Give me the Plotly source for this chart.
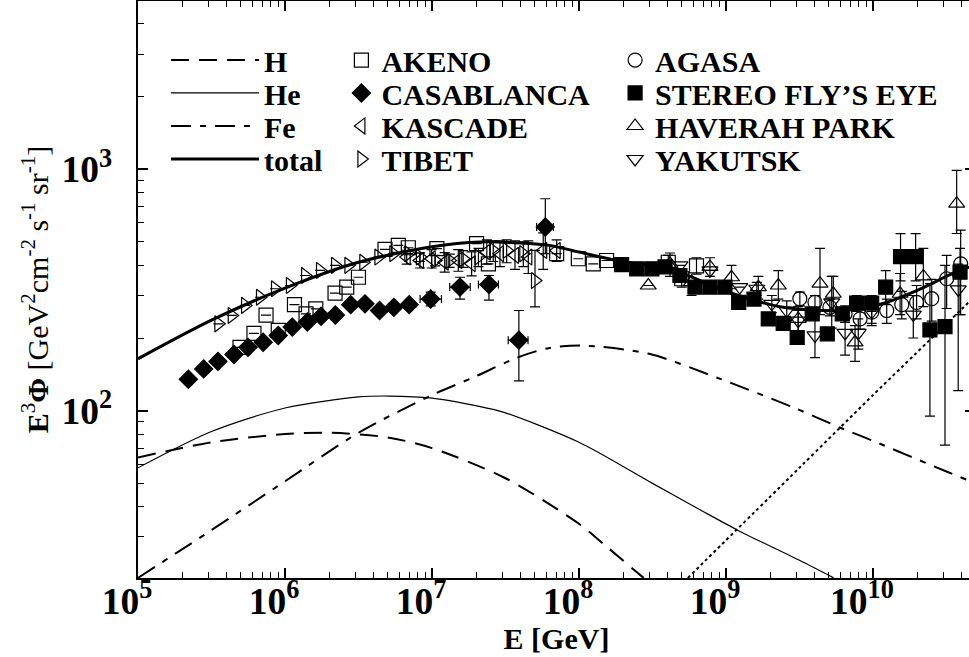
import plotly.graph_objects as go

# ---------------- model curves ----------------
h_E = [1e5, 3.16e5, 1e6, 2.04e6, 5.0e6, 1e7, 3.16e7, 1e8, 1.58e8, 2.75e8]
h_v = [64, 74, 80, 81, 77.5, 70, 52.5, 34, 27, 20.3]

he_E = [1e5, 3.16e5, 1e6, 3.16e6, 5.1e6, 1e7, 2.45e7, 3.16e7, 1e8, 3.16e8, 6.6e8, 1.2e9, 3.16e9, 5.4e9]
he_v = [58, 82, 102.6, 114, 115, 112.7, 102, 98, 74, 50, 39, 32, 24, 20.3]

fe_E = [1e5, 3.16e5, 1e6, 3.16e6, 1e7, 2e7, 3.8e7, 6.3e7, 1.07e8, 3.0e8, 8.7e8, 3.0e9, 6.0e9, 1e10, 3.16e10, 5e10]
fe_v = [20.3, 32, 51, 81, 116, 139, 166, 182, 186, 172, 137, 102, 85, 75, 56, 50]

xg_E = [5.5e8, 3.16e9, 1e10, 5e10]
xg_v = [20.3, 58, 116, 300]

tot_E = [1e5, 3.16e5, 1e6, 3.16e6, 1e7, 2.14e7, 4e7, 6.3e7, 1e8, 2e8, 4e8, 1.12e9, 2.45e9, 6e9, 1.17e10, 2e10, 3.9e10, 5e10]
tot_v = [164, 237, 322, 412, 478, 500, 495, 484, 454, 414, 389, 305, 268, 260, 278, 315, 382, 400]

# ---------------- data ----------------
akeno_E = [4.94e5, 6.15e5, 7.43e5, 9.0e5, 1.16e6, 1.39e6, 1.62e6, 2.19e6, 2.63e6, 3.16e6, 4.79e6, 5.9e6,
           6.9e6, 1.08e7, 2.01e7, 2.42e7, 7.05e7, 9.9e7, 1.25e8, 1.54e8, 4.05e8, 5.0e8, 6.3e8]
akeno_v = [183, 209, 249, 215, 275, 252, 264, 307, 325, 357, 466, 484, 473, 469, 492, 406, 447, 426, 406, 419,
           412, 352, 398]
akeno_hi = [183, 209, 249, 215, 275, 252, 264, 307, 325, 357, 466, 484, 473, 469, 492, 406, 447, 426, 406, 419,
            440, 380, 430]
akeno_lo = [183, 209, 249, 215, 275, 252, 264, 307, 325, 357, 466, 484, 473, 469, 492, 406, 447, 426, 406, 419,
            385, 325, 368]

casa_E = [2.2e5, 2.8e5, 3.5e5, 4.5e5, 5.6e5, 7.1e5, 9.0e5, 1.12e6, 1.42e6, 1.76e6, 2.2e6, 2.8e6, 3.5e6, 4.4e6,
          5.5e6, 7.0e6, 9.8e6, 1.55e7, 2.44e7, 3.9e7, 5.9e7]
casa_v = [135, 149, 160, 171, 183, 192, 205, 222, 233, 246, 249, 275, 277, 260, 268, 275, 290, 325, 333, 196, 577]
casa_hi = [135, 149, 160, 171, 183, 192, 205, 222, 233, 246, 249, 275, 277, 260, 268, 282, 310, 357, 363, 260, 755]
casa_lo = [135, 149, 160, 171, 183, 192, 205, 222, 233, 246, 249, 275, 277, 260, 268, 268, 272, 290, 287, 133, 447]
casa_Elo = [2.2e5, 2.8e5, 3.5e5, 4.5e5, 5.6e5, 7.1e5, 9.0e5, 1.12e6, 1.42e6, 1.76e6, 2.2e6, 2.8e6, 3.5e6, 4.4e6,
            5.5e6, 7.0e6, 8.3e6, 1.32e7, 2.07e7, 3.3e7, 5.15e7]
casa_Ehi = [2.2e5, 2.8e5, 3.5e5, 4.5e5, 5.6e5, 7.1e5, 9.0e5, 1.12e6, 1.42e6, 1.76e6, 2.2e6, 2.8e6, 3.5e6, 4.4e6,
            5.5e6, 7.0e6, 1.16e7, 1.82e7, 2.83e7, 4.5e7, 6.7e7]

kasc_E = [6.73e6, 8.28e6, 9.95e6, 1.22e7, 1.51e7, 1.86e7, 2.36e7, 2.90e7, 3.67e7, 4.52e7, 5.71e7, 7.05e7]
kasc_v = [433, 419, 426, 412, 419, 406, 454, 447, 440, 433, 461, 461]
kasc_hi = [462, 450, 465, 452, 465, 455, 510, 505, 505, 505, 545, 510]
kasc_lo = [405, 390, 390, 375, 378, 362, 405, 395, 385, 370, 385, 415]

tibet_E = [3.52e5, 4.34e5, 5.35e5, 6.76e5, 8.55e5, 1.08e6, 1.37e6, 1.73e6, 2.19e6, 2.70e6, 3.41e6, 4.32e6,
           5.46e6, 6.9e6, 8.28e6, 1.05e7, 1.32e7, 1.63e7, 2.07e7, 2.61e7, 3.22e7, 4.18e7, 5.02e7]
tibet_v = [229, 248, 273, 295, 320, 330, 363, 381, 400, 400, 412, 433, 447, 447, 433, 419, 419, 426, 433, 461,
           461, 447, 346]
tibet_hi = [229, 248, 273, 295, 320, 330, 363, 381, 400, 400, 412, 433, 447, 447, 450, 440, 445, 460, 470, 505,
            510, 500, 461]
tibet_lo = [229, 248, 273, 295, 320, 330, 363, 381, 400, 400, 412, 433, 447, 447, 415, 398, 392, 392, 395, 415,
            410, 395, 269]

agasa_E = [3.18e9, 4.03e9, 5.09e9, 6.46e9, 8.17e9, 9.8e9, 1.24e10, 1.57e10, 1.98e10, 2.51e10, 3.17e10, 3.95e10]
agasa_v = [291, 281, 268, 252, 240, 256, 260, 275, 281, 291, 352, 406]
agasa_hi = [310, 300, 290, 272, 262, 282, 290, 312, 330, 350, 440, 560]
agasa_lo = [272, 262, 247, 232, 218, 230, 230, 240, 240, 235, 265, 250]

fly_E = [1.95e8, 2.47e8, 3.13e8, 3.85e8, 4.86e8, 6.15e8, 7.78e8, 9.84e8, 1.22e9, 1.55e9, 1.94e9, 2.45e9,
         3.05e9, 3.86e9, 4.89e9, 6.18e9, 7.74e9, 9.8e9, 1.22e10, 1.54e10, 1.95e10, 2.44e10, 3.09e10, 3.91e10]
fly_v = [403, 387, 387, 394, 363, 325, 325, 325, 281, 290, 240, 230, 201, 252, 208, 252, 279, 279, 325, 435,
         435, 216, 223, 375]
fly_hi = [403, 387, 387, 394, 363, 325, 325, 325, 281, 290, 240, 230, 201, 252, 208, 252, 300, 300, 380, 541,
          541, 336, 400, 470]
fly_lo = [403, 387, 387, 394, 363, 325, 325, 325, 281, 290, 240, 230, 201, 252, 208, 252, 258, 258, 275, 345,
          345, 95, 72, 250]

hav_E = [2.96e8, 4.16e8, 5.83e8, 7.78e8, 1.09e9, 1.66e9, 2.27e9, 3.1e9, 4.36e9, 5.37e9, 7.55e9, 1.53e10,
         2.2e10, 3.71e10]
hav_v = [330, 406, 341, 394, 357, 325, 330, 240, 336, 305, 192, 305, 360, 720]
hav_hi = [330, 450, 341, 430, 400, 360, 380, 270, 470, 360, 225, 370, 470, 990]
hav_lo = [330, 360, 300, 360, 320, 290, 290, 212, 250, 260, 160, 250, 270, 542]

yak_E = [4.86e8, 7.78e8, 1.24e9, 1.62e9, 2.05e9, 2.59e9, 3.1e9, 4.03e9, 5.24e9, 6.46e9, 7.94e9, 9.8e9,
         1.88e10, 3.8e10]
yak_v = [400, 381, 325, 320, 277, 260, 236, 205, 281, 210, 210, 256, 250, 318]
yak_hi = [400, 381, 325, 340, 300, 285, 260, 260, 360, 260, 240, 290, 300, 405]
yak_lo = [400, 381, 325, 300, 255, 237, 212, 166, 220, 170, 180, 225, 200, 121]

FONT = "Liberation Serif"
BLACK = "black"

# legend placement (paper coords), one legend per entry
col_x = [0.0335, 0.243, 0.570]
row_y = [0.8977, 0.8406, 0.7834, 0.7262]

fig = go.Figure()
legend_defs = {}


def legend_id(col, row):
    n = col * 4 + row + 1
    lid = "legend" if n == 1 else "legend%d" % n
    legend_defs[lid] = dict(x=col_x[col], y=row_y[row], itemwidth=88 if col == 0 else 30)
    return lid


def add_line(E, v, name, dash, width, pos=None):
    kw = dict(showlegend=False)
    if pos is not None:
        kw = dict(showlegend=True, legend=legend_id(*pos))
    fig.add_trace(go.Scatter(x=E, y=v, mode="lines", name=name,
                             line=dict(color=BLACK, dash=dash, width=width, shape="spline", smoothing=0.8),
                             **kw))


def add_data(E, v, hi, lo, name, symbol, pos, Elo=None, Ehi=None):
    ep = [a - b for a, b in zip(hi, v)]
    em = [b - a for a, b in zip(lo, v)]
    kw = {}
    if Elo is not None:
        kw["error_x"] = dict(type="data", symmetric=False,
                             array=[a - b for a, b in zip(Ehi, E)],
                             arrayminus=[b - a for a, b in zip(Elo, E)],
                             color=BLACK, thickness=1.2, width=4)
    fig.add_trace(go.Scatter(
        x=E, y=v, mode="markers", name=name, legend=legend_id(*pos),
        marker=dict(symbol=symbol, size=14, color=BLACK, line=dict(color=BLACK, width=1.2)),
        error_y=dict(type="data", symmetric=False, array=ep, arrayminus=em,
                     color=BLACK, thickness=1.2, width=5),
        **kw))


add_line(h_E, h_v, "H", "18px,10px", 2, (0, 0))
add_line(he_E, he_v, "He", "solid", 1.2, (0, 1))
add_line(fe_E, fe_v, "Fe", "20px,9px,6px,9px", 2, (0, 2))
add_line(tot_E, tot_v, "total", "solid", 3, (0, 3))
add_line(xg_E, xg_v, "extragalactic", "dot", 2)

add_data(akeno_E, akeno_v, akeno_hi, akeno_lo, "AKENO", "square-open", (1, 0))
add_data(casa_E, casa_v, casa_hi, casa_lo, "CASABLANCA", "diamond", (1, 1), casa_Elo, casa_Ehi)
add_data(kasc_E, kasc_v, kasc_hi, kasc_lo, "KASCADE", "triangle-left-open", (1, 2))
add_data(tibet_E, tibet_v, tibet_hi, tibet_lo, "TIBET", "triangle-right-open", (1, 3))

add_data(agasa_E, agasa_v, agasa_hi, agasa_lo, "AGASA", "circle-open", (2, 0))
add_data(fly_E, fly_v, fly_hi, fly_lo, "STEREO FLY\u2019S EYE", "square", (2, 1))
add_data(hav_E, hav_v, hav_hi, hav_lo, "HAVERAH PARK", "triangle-up-open", (2, 2))
add_data(yak_E, yak_v, yak_hi, yak_lo, "YAKUTSK", "triangle-down-open", (2, 3))

leg_font = dict(family=FONT, size=30, color=BLACK, weight="bold")
legends = {}
for lid, d in legend_defs.items():
    legends[lid] = dict(font=leg_font, bgcolor="rgba(0,0,0,0)", borderwidth=0,
                        xanchor="left", yanchor="middle", **d)

axis_common = dict(type="log", showline=True, linecolor=BLACK, linewidth=2, mirror="ticks",
                   ticks="inside", ticklen=10, tickwidth=1.5, tickcolor=BLACK, dtick=1,
                   exponentformat="power", showexponent="all", showgrid=False, zeroline=False,
                   automargin=False,
                   tickfont=dict(family=FONT, size=30, color=BLACK, weight="bold"),
                   minor=dict(ticks="inside", ticklen=6, tickwidth=1.2, tickcolor=BLACK,
                              dtick="D1", showgrid=False))

fig.update_layout(
    width=975, height=657,
    margin=dict(l=138, r=0, t=1, b=79),
    paper_bgcolor="white", plot_bgcolor="white",
    font=dict(family=FONT, color=BLACK),
    xaxis=dict(range=[5, 10.694], ticklabelshift=-11, ticklabelstandoff=-10,
               title=dict(text="<b>E [GeV]</b>", font=dict(family=FONT, size=30, color=BLACK), standoff=4),
               **axis_common),
    yaxis=dict(range=[1.307, 3.697], ticklabelstandoff=18,
               title=dict(text="<b>E</b><sup>3</sup><b>\u03a6</b> [GeV<sup>2</sup>cm<sup>-2</sup> s<sup>-1</sup> sr<sup>-1</sup>]",
                          font=dict(family=FONT, size=30, color=BLACK), standoff=4),
               **axis_common),
    showlegend=True,
    **legends,
)

fig.write_html("out.html", config={"displayModeBar": False}, post_script=(
    "document.body.style.margin='0';"
    "document.body.style.overflow='hidden';"
    "document.documentElement.style.overflow='hidden';"))
